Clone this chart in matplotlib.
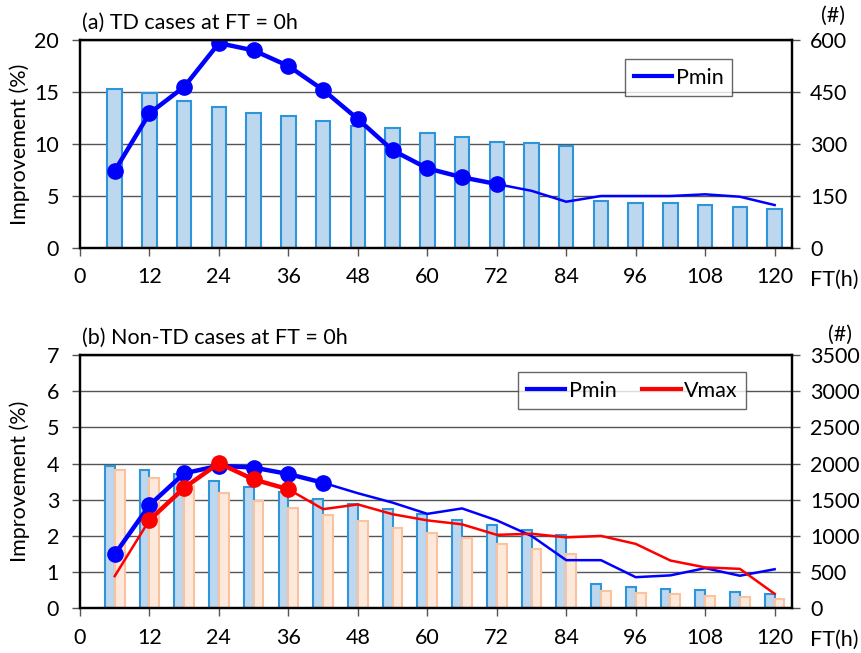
import matplotlib
matplotlib.use("Agg")
import matplotlib.pyplot as plt
from matplotlib.lines import Line2D

plt.rcParams['font.family'] = ['Lato', 'DejaVu Sans']

ft = [6, 12, 18, 24, 30, 36, 42, 48, 54, 60, 66, 72, 78, 84, 90, 96, 102, 108, 114, 120]
xticks = [0, 12, 24, 36, 48, 60, 72, 84, 96, 108, 120]

# (a) TD cases
pmin_a = [7.43, 12.95, 15.5, 19.7, 19.0, 17.5, 15.2, 12.4, 9.4, 7.66, 6.8, 6.15,
          5.5, 4.45, 5.0, 5.0, 5.0, 5.16, 4.93, 4.13]
count_a = [458, 447, 425, 406, 390, 382, 365, 353, 345, 333, 321, 307,
           303, 294, 136, 131, 129, 124, 119, 113]

# (b) Non-TD cases
pmin_b = [1.49, 2.85, 3.73, 3.94, 3.89, 3.71, 3.47, 3.18, 2.92, 2.61, 2.76, 2.43,
          2.0, 1.33, 1.33, 0.86, 0.91, 1.11, 0.90, 1.08]
vmax_b = [0.89, 2.44, 3.33, 4.01, 3.56, 3.29, 2.74, 2.87, 2.60, 2.43, 2.32, 2.03,
          2.06, 1.96, 2.0, 1.78, 1.32, 1.13, 1.09, 0.40]
count_pmin_b = [1970, 1911, 1851, 1759, 1680, 1603, 1510, 1445, 1368, 1299, 1220, 1155,
                1086, 1017, 332, 298, 271, 253, 225, 198]
count_vmax_b = [1911, 1800, 1694, 1593, 1484, 1382, 1289, 1202, 1109, 1045, 967, 893,
                824, 755, 243, 216, 193, 170, 152, 129]

BLUE = '#0000FF'
RED = '#FF0000'
BAR_B_FACE = '#BDD7EE'
BAR_B_EDGE = '#2E95DA'
BAR_O_FACE = '#FDE9DC'
BAR_O_EDGE = '#F8C39E'
GRID = '#555555'
FS = 15.5

fig = plt.figure(figsize=(8.61, 6.53), dpi=100)
W, H = 861.0, 653.0


def setup(ax, ax2, ylim, yticks, ylim2, yticks2):
    ax2.set_xlim(0, 123)
    ax.set_xlim(0, 123)
    ax.set_ylim(*ylim)
    ax.set_yticks(yticks)
    ax2.set_ylim(*ylim2)
    ax2.set_yticks(yticks2)
    ax.set_xticks(xticks)
    ax2.grid(True, color=GRID, lw=1.0)
    ax2.set_axisbelow(True)
    ax.set_zorder(ax2.get_zorder() + 1)
    ax.patch.set_visible(False)
    for a in (ax, ax2):
        for s in a.spines.values():
            s.set_linewidth(1.6)
            s.set_color('black')
        a.tick_params(labelsize=FS, direction='out', length=6, width=1.0, color=GRID)
    ax.tick_params(axis='y', pad=9)
    ax2.tick_params(axis='y', pad=7)
    ax.tick_params(axis='x', pad=8)
    ax.set_ylabel('Improvement (%)', fontsize=FS)
    ax.yaxis.set_label_coords(-0.070, 0.5)


def make_legend(ax, handles, labels, x, y, ncol=1):
    leg = ax.legend(handles=handles, labels=labels, ncol=ncol,
                    loc='upper left', bbox_to_anchor=(x / W, 1 - y / H), bbox_transform=fig.transFigure,
                    fontsize=FS, frameon=True, fancybox=False, handlelength=1.8, handletextpad=0.15,
                    columnspacing=1.2, borderpad=0.4, borderaxespad=0)
    leg.get_frame().set_edgecolor('#404040')
    leg.get_frame().set_linewidth(1.0)
    return leg


# ---------- panel (a)
axa = fig.add_axes([80 / W, 1 - 248 / H, 712 / W, 208 / H])
axa2 = axa.twinx()
axa2.bar(ft, count_a, width=2.5, color=BAR_B_FACE, edgecolor=BAR_B_EDGE, linewidth=1.5)
axa.plot(ft[:12], pmin_a[:12], color=BLUE, lw=3.2, marker='o', ms=11)
axa.plot(ft[11:], pmin_a[11:], color=BLUE, lw=1.8)
setup(axa, axa2, (0, 20), [0, 5, 10, 15, 20], (0, 600), [0, 150, 300, 450, 600])
make_legend(axa, [Line2D([], [], color=BLUE, lw=3)], ['Pmin'], 625, 59)
fig.text(82 / W, 1 - 23 / H, '(a) TD cases at FT = 0h', fontsize=FS, ha='left', va='center')
fig.text(833 / W, 1 - 16 / H, '(#)', fontsize=FS, ha='center', va='center')
fig.text(810 / W, 1 - 280 / H, 'FT(h)', fontsize=FS, ha='left', va='center')

# ---------- panel (b)
axb = fig.add_axes([80 / W, 1 - 608.3 / H, 712 / W, 253.3 / H])
axb2 = axb.twinx()
bx_b = [x - 0.85 for x in ft]
bx_o = [x + 0.85 for x in ft]
axb2.bar(bx_b, count_pmin_b, width=1.7, color=BAR_B_FACE, edgecolor=BAR_B_EDGE, linewidth=1.5)
axb2.bar(bx_o, count_vmax_b, width=1.7, color=BAR_O_FACE, edgecolor=BAR_O_EDGE, linewidth=1.5)
axb.plot(ft[:7], pmin_b[:7], color=BLUE, lw=3.2, marker='o', ms=11)
axb.plot(ft[6:], pmin_b[6:], color=BLUE, lw=1.8)
axb.plot(ft[:2], vmax_b[:2], color=RED, lw=1.8)
axb.plot(ft[1:6], vmax_b[1:6], color=RED, lw=3.2, marker='o', ms=11)
axb.plot(ft[5:], vmax_b[5:], color=RED, lw=1.8)
setup(axb, axb2, (0, 7), list(range(0, 8)), (0, 3500), list(range(0, 3501, 500)))
make_legend(axb, [Line2D([], [], color=BLUE, lw=3), Line2D([], [], color=RED, lw=3)],
            ['Pmin', 'Vmax'], 518, 372, ncol=2)
fig.text(82 / W, 1 - 338 / H, '(b) Non-TD cases at FT = 0h', fontsize=FS, ha='left', va='center')
fig.text(840 / W, 1 - 335 / H, '(#)', fontsize=FS, ha='center', va='center')
fig.text(810 / W, 1 - 640 / H, 'FT(h)', fontsize=FS, ha='left', va='center')

fig.savefig('out.png', dpi=100)
